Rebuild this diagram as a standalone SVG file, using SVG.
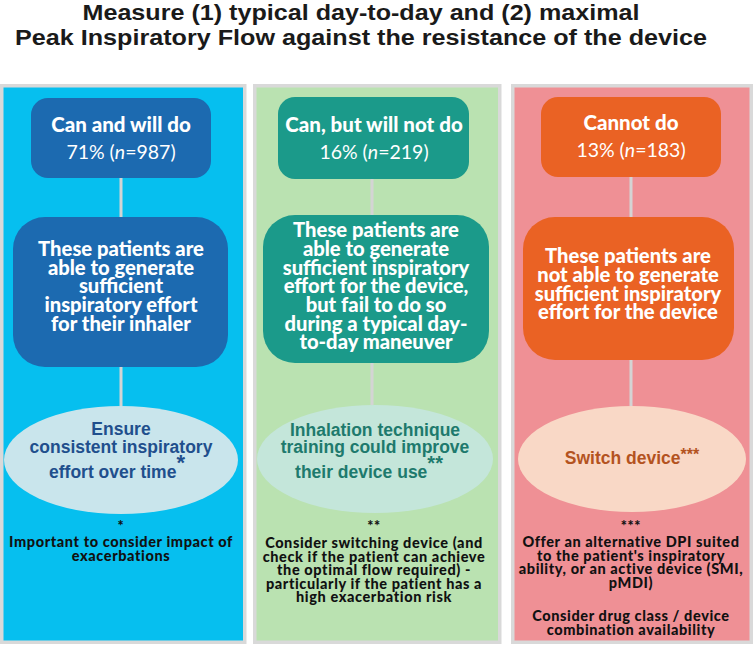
<svg xmlns="http://www.w3.org/2000/svg" width="753" height="646" viewBox="0 0 753 646">
<style>
.title{font-family:"Liberation Sans",Arial,sans-serif;font-weight:bold;font-size:22.5px;fill:#1a1a1a;text-anchor:middle}
.hd{font-family:Lato,"Open Sans",sans-serif;font-weight:900;font-size:20.5px;fill:#ffffff;text-anchor:middle}
.pc{font-family:Lato,"Open Sans",sans-serif;font-weight:400;font-size:19.5px;fill:#ffffff;text-anchor:middle}
.bx{font-family:Lato,"Open Sans",sans-serif;font-weight:900;font-size:20.2px;fill:#ffffff;text-anchor:middle}
.el{font-family:"Liberation Sans",Arial,sans-serif;font-weight:bold;font-size:17.5px;text-anchor:middle}
.fn{font-family:Lato,"Open Sans",sans-serif;font-weight:900;font-size:14.5px;letter-spacing:0.6px;fill:#111111;text-anchor:middle}
.conn line{stroke:#d4d4d4;stroke-width:3}
.panel{stroke:#d9d9d9;stroke-width:3.5}
</style>
<rect width="753" height="646" fill="#ffffff"/>
<g id="title">
<text class="title" x="361" y="20" textLength="557" lengthAdjust="spacingAndGlyphs">Measure (1) typical day-to-day and (2) maximal</text>
<text class="title" x="361" y="45" textLength="692" lengthAdjust="spacingAndGlyphs">Peak Inspiratory Flow against the resistance of the device</text>
</g>
<g id="panels">
<rect class="panel" x="1.75" y="85.75" width="243" height="556.5" fill="#06bfef"/>
<rect class="panel" x="254.75" y="85.75" width="245" height="556.5" fill="#bae2b1"/>
<rect class="panel" x="512.75" y="85.75" width="238.5" height="556.5" fill="#ef9095"/>
</g>
<g class="conn" id="connectors">
<line x1="121" y1="178" x2="121" y2="217"/>
<line x1="121" y1="367" x2="121" y2="406"/>
<line x1="372" y1="179" x2="372" y2="215"/>
<line x1="372" y1="363" x2="372" y2="405"/>
<line x1="631" y1="177" x2="631" y2="217"/>
<line x1="631" y1="360" x2="631" y2="406"/>
</g>
<g id="can-will">
<rect x="31" y="98" width="180" height="80" rx="17" fill="#1c6ab0"/>
<text class="hd" x="121" y="132">Can and will do</text>
<text class="pc" x="121" y="159">71% (<tspan font-style="italic">n</tspan>=987)</text>
</g>
<g id="can-will-desc">
<rect x="13" y="217" width="215" height="150" rx="32" fill="#1c6ab0"/>
<text class="bx" x="121" y="256">These patients are</text>
<text class="bx" x="121" y="274.5">able to generate</text>
<text class="bx" x="121" y="293">sufficient</text>
<text class="bx" x="121" y="312">inspiratory effort</text>
<text class="bx" x="121" y="331">for their inhaler</text>
</g>
<g id="can-will-action">
<ellipse cx="121" cy="460" rx="117" ry="54" fill="#c9e5ec"/>
<text class="el" x="121" y="435" fill="#1f4f8d">Ensure</text>
<text class="el" x="121" y="453" fill="#1f4f8d">consistent inspiratory</text>
<text class="el" x="117" y="478" fill="#1f4f8d">effort over time<tspan font-size="22" dy="-8">*</tspan></text>
</g>
<g id="can-will-note">
<text class="fn" x="121" y="531">*</text>
<text class="fn" x="121" y="547">Important to consider impact of</text>
<text class="fn" x="121" y="561">exacerbations</text>
</g>
<g id="can-wont">
<rect x="278" y="97" width="191" height="82" rx="17" fill="#1b9a8a"/>
<text class="hd" x="374" y="132">Can, but will not do</text>
<text class="pc" x="374" y="159">16% (<tspan font-style="italic">n</tspan>=219)</text>
</g>
<g id="can-wont-desc">
<rect x="263" y="215" width="226" height="148" rx="32" fill="#1b9a8a"/>
<text class="bx" x="376" y="237">These patients are</text>
<text class="bx" x="376" y="256">able to generate</text>
<text class="bx" x="376" y="274.5">sufficient inspiratory</text>
<text class="bx" x="376" y="293">effort for the device,</text>
<text class="bx" x="376" y="312">but fail to do so</text>
<text class="bx" x="376" y="331">during a typical day-</text>
<text class="bx" x="376" y="349">to-day maneuver</text>
</g>
<g id="can-wont-action">
<ellipse cx="375" cy="459" rx="118" ry="54" fill="#c4e6da"/>
<text class="el" x="375" y="436" fill="#1e7a6d">Inhalation technique</text>
<text class="el" x="375" y="453" fill="#1e7a6d">training could improve</text>
<text class="el" x="369" y="478" fill="#1e7a6d">their device use<tspan font-size="20" dy="-8">**</tspan></text>
</g>
<g id="can-wont-note">
<text class="fn" x="374" y="531">**</text>
<text class="fn" x="374" y="548">Consider switching device (and</text>
<text class="fn" x="374" y="561.5">check if the patient can achieve</text>
<text class="fn" x="374" y="575">the optimal flow required) -</text>
<text class="fn" x="374" y="588.5">particularly if the patient has a</text>
<text class="fn" x="374" y="602">high exacerbation risk</text>
</g>
<g id="cannot">
<rect x="541" y="97" width="180" height="80" rx="17" fill="#ea6224"/>
<text class="hd" x="631" y="130">Cannot do</text>
<text class="pc" x="631" y="157">13% (<tspan font-style="italic">n</tspan>=183)</text>
</g>
<g id="cannot-desc">
<rect x="523" y="217" width="211" height="143" rx="32" fill="#ea6224"/>
<text class="bx" x="628" y="263">These patients are</text>
<text class="bx" x="628" y="282">not able to generate</text>
<text class="bx" x="628" y="300.5">sufficient inspiratory</text>
<text class="bx" x="628" y="319">effort for the device</text>
</g>
<g id="cannot-action">
<ellipse cx="632" cy="459" rx="114" ry="53" fill="#f9d8c6"/>
<text class="el" x="632" y="464" fill="#b4531f">Switch device<tspan font-size="16" dy="-4">***</tspan></text>
</g>
<g id="cannot-note">
<text class="fn" x="631" y="531">***</text>
<text class="fn" x="631" y="547">Offer an alternative DPI suited</text>
<text class="fn" x="631" y="560.5">to the patient's inspiratory</text>
<text class="fn" x="631" y="574">ability, or an active device (SMI,</text>
<text class="fn" x="631" y="587.5">pMDI)</text>
<text class="fn" x="631" y="621">Consider drug class / device</text>
<text class="fn" x="631" y="634.5">combination availability</text>
</g>
</svg>
